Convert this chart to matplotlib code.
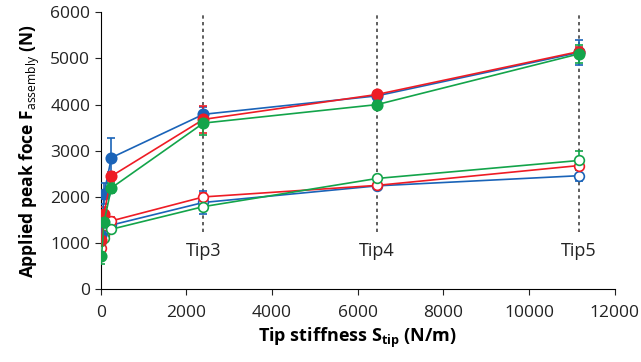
import matplotlib
matplotlib.use("Agg")
import matplotlib.pyplot as plt
import numpy as np

plt.rcParams['font.family'] = ['Open Sans', 'DejaVu Sans']
plt.rcParams['mathtext.fontset'] = 'custom'
plt.rcParams['mathtext.rm'] = 'Open Sans'
plt.rcParams['mathtext.bf'] = 'Open Sans:bold'

# tip stiffness (N/m)
stiffness = [20, 80, 250, 2400, 6450, 11170]
tip_names = ["Tip3", "Tip4", "Tip5"]
tip_x = [2400, 6450, 11170]

# filled series
blue_filled = [1170, 2070, 2850, 3790, 4190, 5130]
red_filled = [1060, 1640, 2450, 3680, 4220, 5150]
green_filled = [715, 1460, 2195, 3600, 4000, 5100]
blue_filled_err = [100, 230, 420, 150, 50, 280]
red_filled_err = [100, 150, 100, 300, 80, 100]
green_filled_err = [170, 150, 100, 250, 50, 200]

# open series
blue_open = [1090, 1250, 1390, 1880, 2240, 2460]
red_open = [900, 1180, 1480, 2000, 2250, 2680]
green_open = [1050, 1120, 1300, 1790, 2400, 2790]
blue_open_err = [100, 150, 100, 250, 50, 120]
red_open_err = [80, 100, 80, 80, 50, 80]
green_open_err = [80, 100, 80, 80, 50, 200]

blue = "#1a63b8"
red = "#ee1c25"
green = "#13a44a"

fig = plt.figure(figsize=(6.41, 3.62), dpi=100)
ax = fig.add_axes([0.157, 0.201, 0.802, 0.765])

for x in tip_x:
    ax.plot([x, x], [1250, 6000], ls=(0, (2, 2)), color="#444444", lw=1.2, zorder=1)
for name, x in zip(tip_names, tip_x):
    ax.text(x, 830, name, ha="center", va="center", fontsize=13, color="#222222")

series = [
    (blue_open, blue_open_err, blue, False),
    (red_open, red_open_err, red, False),
    (green_open, green_open_err, green, False),
    (blue_filled, blue_filled_err, blue, True),
    (red_filled, red_filled_err, red, True),
    (green_filled, green_filled_err, green, True),
]
for ys, err, c, filled in series:
    ax.errorbar(stiffness, ys, yerr=err, color=c, lw=1.2, elinewidth=1.2,
                capsize=3, capthick=1.2, marker="o", markersize=7.5 if filled else 7,
                markerfacecolor=c if filled else "white", markeredgecolor=c,
                markeredgewidth=1.2, zorder=3)

ax.set_xlim(0, 12000)
ax.set_ylim(0, 6000)
ax.set_xticks(np.arange(0, 12001, 2000))
ax.set_yticks(np.arange(0, 6001, 1000))
ax.spines["top"].set_visible(False)
ax.spines["right"].set_visible(False)
ax.tick_params(direction="out", length=4, labelsize=12.5, colors="#222222")
ax.tick_params(axis="x", pad=7)
ax.set_xlabel(r"Tip stiffness S$_{\mathbf{tip}}$ (N/m)", fontsize=13, fontweight="bold", labelpad=4)
ax.set_ylabel(r"Applied peak foce F$_{\mathrm{assembly}}$ (N)", fontsize=12.5, fontweight="bold", labelpad=6)

fig.savefig("out.png", dpi=100)
